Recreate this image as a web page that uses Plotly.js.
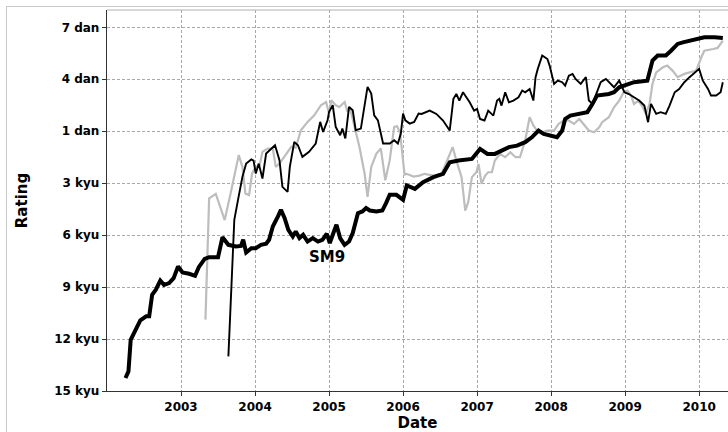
<!DOCTYPE html>
<html>
<head>
<meta charset="utf-8">
<script src="https://cdn.plot.ly/plotly-3.0.1.min.js"></script>
<style>
  html, body { margin: 0; padding: 0; background: #ffffff; }
  #wrap { position: relative; width: 728px; height: 432px; overflow: hidden; }
  #chart { width: 728px; height: 432px; }
  #frame { position: absolute; left: 6px; top: 6px; width: 740px; height: 440px;
           border-left: 1px solid #c8c8c8; border-top: 1px solid #c8c8c8; pointer-events: none; }
</style>
</head>
<body>
<div id="wrap"><div id="chart"></div><div id="frame"></div></div>
<script>
// Rating scale: 1 dan = 0, k kyu = -k, d dan = d - 1
const rankTickVals = [6, 3, 0, -3, -6, -9, -12, -15];
const rankTickText = ['7 dan', '4 dan', '1 dan', '3 kyu', '6 kyu', '9 kyu', '12 kyu', '15 kyu'];
const yearTicks = [2003, 2004, 2005, 2006, 2007, 2008, 2009, 2010];
const yearTickText = ['2003', '2004', '2005', '2006', '2007', '2008', '2009', '2010'];

// [year, rating]
const sm9 = [[2002.25,-14.25],[2002.29,-13.87],[2002.32,-12.04],[2002.38,-11.46],[2002.45,-10.92],[2002.53,-10.69],[2002.57,-10.69],[2002.61,-9.44],[2002.66,-9.15],[2002.72,-8.62],[2002.77,-8.87],[2002.84,-8.77],[2002.90,-8.48],[2002.96,-7.81],[2003.02,-8.15],[2003.11,-8.23],[2003.19,-8.35],[2003.24,-7.85],[2003.32,-7.37],[2003.38,-7.27],[2003.50,-7.27],[2003.56,-6.12],[2003.64,-6.56],[2003.74,-6.65],[2003.81,-6.62],[2003.84,-6.27],[2003.88,-7.0],[2003.95,-6.75],[2004.01,-6.75],[2004.08,-6.56],[2004.15,-6.5],[2004.19,-6.27],[2004.24,-5.5],[2004.31,-4.92],[2004.35,-4.54],[2004.40,-5.02],[2004.45,-5.69],[2004.51,-6.08],[2004.55,-5.79],[2004.60,-6.17],[2004.65,-5.98],[2004.71,-6.37],[2004.78,-6.17],[2004.85,-6.37],[2004.91,-6.27],[2004.97,-5.92],[2005.01,-6.46],[2005.05,-5.98],[2005.10,-5.4],[2005.15,-6.17],[2005.21,-6.56],[2005.27,-6.37],[2005.32,-5.88],[2005.39,-4.73],[2005.45,-4.63],[2005.50,-4.44],[2005.55,-4.58],[2005.64,-4.63],[2005.72,-4.58],[2005.77,-4.15],[2005.82,-3.67],[2005.91,-3.67],[2005.97,-3.87],[2006.00,-3.96],[2006.05,-3.13],[2006.16,-3.33],[2006.27,-2.94],[2006.41,-2.65],[2006.54,-2.46],[2006.63,-1.79],[2006.75,-1.69],[2006.93,-1.6],[2007.04,-1.02],[2007.14,-1.31],[2007.24,-1.31],[2007.33,-1.12],[2007.43,-0.92],[2007.54,-0.83],[2007.65,-0.63],[2007.74,-0.35],[2007.83,0.04],[2007.90,-0.15],[2008.01,-0.25],[2008.08,-0.35],[2008.15,0.04],[2008.19,0.71],[2008.26,0.9],[2008.40,1.0],[2008.49,1.1],[2008.56,1.58],[2008.62,2.06],[2008.78,2.15],[2008.85,2.25],[2008.92,2.54],[2009.03,2.73],[2009.12,2.83],[2009.30,2.92],[2009.37,4.08],[2009.44,4.37],[2009.55,4.37],[2009.62,4.65],[2009.71,5.04],[2009.78,5.13],[2009.89,5.23],[2010.00,5.33],[2010.07,5.42],[2010.21,5.42],[2010.32,5.38]];

const grayPlayer = [[2003.33,-10.88],[2003.38,-3.87],[2003.47,-3.62],[2003.54,-4.54],[2003.59,-5.13],[2003.68,-3.4],[2003.74,-2.15],[2003.78,-1.38],[2003.83,-2.06],[2003.87,-3.6],[2003.92,-3.69],[2003.96,-2.44],[2004.01,-2.06],[2004.06,-2.0],[2004.10,-1.19],[2004.17,-1.0],[2004.24,-1.0],[2004.28,-2.06],[2004.33,-1.87],[2004.42,-1.3],[2004.49,-0.9],[2004.55,-0.95],[2004.62,0.06],[2004.71,0.54],[2004.80,0.92],[2004.89,1.5],[2004.96,1.69],[2005.0,1.02],[2005.03,1.79],[2005.09,1.5],[2005.14,1.4],[2005.21,1.69],[2005.25,1.12],[2005.28,1.4],[2005.34,0.35],[2005.41,-0.9],[2005.48,-2.44],[2005.52,-3.79],[2005.57,-2.06],[2005.64,-1.29],[2005.70,-1.0],[2005.76,-2.83],[2005.82,-1.67],[2005.88,0.25],[2005.92,0.29],[2005.96,-0.1],[2006.02,-2.5],[2006.05,-2.46],[2006.14,-2.62],[2006.22,-2.56],[2006.29,-2.46],[2006.41,-2.56],[2006.52,-2.46],[2006.59,-1.79],[2006.67,-0.92],[2006.72,-1.69],[2006.79,-2.65],[2006.84,-4.58],[2006.88,-4.1],[2006.93,-2.65],[2006.99,-2.37],[2007.02,-1.88],[2007.06,-3.04],[2007.11,-2.56],[2007.15,-2.37],[2007.20,-2.37],[2007.24,-1.69],[2007.31,-1.31],[2007.38,-1.5],[2007.45,-1.21],[2007.52,-1.5],[2007.58,-1.5],[2007.65,-0.54],[2007.71,0.81],[2007.76,0.33],[2007.81,0.04],[2007.88,-0.06],[2007.95,0.04],[2008.04,0.04],[2008.10,0.42],[2008.17,0.62],[2008.24,0.62],[2008.31,0.42],[2008.38,0.71],[2008.44,0.42],[2008.51,0.04],[2008.58,-0.06],[2008.65,0.23],[2008.69,0.52],[2008.78,0.81],[2008.85,1.38],[2008.92,1.77],[2008.98,2.25],[2009.03,2.35],[2009.08,2.06],[2009.12,1.58],[2009.18,1.77],[2009.24,1.38],[2009.28,1.0],[2009.33,1.58],[2009.37,2.73],[2009.42,3.4],[2009.51,3.69],[2009.57,3.79],[2009.64,3.5],[2009.71,3.12],[2009.80,3.31],[2009.89,3.4],[2009.96,3.5],[2010.03,4.27],[2010.07,4.65],[2010.19,4.75],[2010.25,4.81],[2010.32,5.23]];

const blackPlayer = [[2003.64,-13.0],[2003.72,-5.12],[2003.77,-3.96],[2003.83,-2.63],[2003.88,-1.87],[2003.95,-1.63],[2003.98,-1.7],[2004.01,-2.44],[2004.05,-1.87],[2004.10,-2.73],[2004.15,-1.29],[2004.22,-1.0],[2004.27,-0.81],[2004.33,-1.67],[2004.37,-3.21],[2004.44,-3.5],[2004.47,-2.06],[2004.53,-0.62],[2004.58,-0.81],[2004.64,-1.48],[2004.73,-1.19],[2004.82,-0.71],[2004.88,0.54],[2004.92,-0.04],[2004.98,0.63],[2005.0,1.12],[2005.05,1.5],[2005.09,0.25],[2005.15,-0.23],[2005.18,0.15],[2005.22,-0.42],[2005.27,1.4],[2005.32,1.21],[2005.36,0.06],[2005.43,0.15],[2005.52,2.56],[2005.57,2.17],[2005.61,0.92],[2005.66,0.63],[2005.73,-0.71],[2005.82,-0.71],[2005.88,-0.52],[2005.93,-0.71],[2005.97,-0.13],[2006.0,1.02],[2006.03,0.63],[2006.09,0.44],[2006.15,0.54],[2006.21,1.02],[2006.25,1.0],[2006.36,1.19],[2006.45,1.0],[2006.54,0.62],[2006.63,0.04],[2006.68,1.87],[2006.72,2.15],[2006.76,1.77],[2006.81,2.25],[2006.86,1.96],[2006.90,1.67],[2006.96,1.19],[2007.0,1.29],[2007.04,0.71],[2007.10,0.62],[2007.15,1.19],[2007.22,0.9],[2007.27,1.77],[2007.30,1.87],[2007.33,1.48],[2007.38,2.25],[2007.43,1.67],[2007.49,1.77],[2007.56,1.96],[2007.61,2.35],[2007.65,2.25],[2007.71,2.44],[2007.76,1.77],[2007.79,3.12],[2007.82,3.6],[2007.88,4.37],[2007.95,4.17],[2007.98,3.79],[2008.04,2.73],[2008.09,2.92],[2008.15,2.83],[2008.19,2.63],[2008.24,3.21],[2008.29,3.31],[2008.33,3.02],[2008.40,2.73],[2008.47,3.12],[2008.51,1.77],[2008.56,1.58],[2008.60,2.06],[2008.67,2.83],[2008.74,3.02],[2008.81,2.73],[2008.85,2.54],[2008.92,2.92],[2008.99,2.25],[2009.05,2.15],[2009.12,1.96],[2009.19,1.77],[2009.26,1.48],[2009.31,0.52],[2009.35,1.58],[2009.42,1.0],[2009.48,1.1],[2009.55,1.0],[2009.60,1.48],[2009.67,2.25],[2009.73,2.44],[2009.80,2.83],[2009.87,3.12],[2009.94,3.4],[2010.0,3.6],[2010.05,2.92],[2010.12,2.44],[2010.16,2.06],[2010.23,2.06],[2010.29,2.25],[2010.32,2.83]];

const labelText = 'SM9';
const labelPos = [2004.97, -7.27];

const xs = a => a.map(p => p[0]);
const ys = a => a.map(p => p[1]);

const traces = [
  { x: xs(grayPlayer), y: ys(grayPlayer), mode: 'lines', line: { color: '#bdbdbd', width: 2.2 }, hoverinfo: 'skip' },
  { x: xs(blackPlayer), y: ys(blackPlayer), mode: 'lines', line: { color: '#000000', width: 1.9 }, hoverinfo: 'skip' },
  { x: xs(sm9), y: ys(sm9), mode: 'lines', line: { color: '#000000', width: 4 }, hoverinfo: 'skip' }
];

const fontFam = '"DejaVu Sans", sans-serif';
const layout = {
  width: 728, height: 432,
  margin: { l: 107, r: 0, t: 10, b: 41 },
  paper_bgcolor: '#ffffff', plot_bgcolor: '#ffffff',
  showlegend: false,
  font: { family: fontFam, color: '#000000' },
  xaxis: {
    range: [2002.0, 2010.39],
    tickvals: yearTicks, ticktext: yearTickText,
    tickfont: { family: fontFam, size: 12, weight: 'bold', color: '#000' },
    ticks: 'outside', ticklen: 4, tickcolor: '#333',
    showgrid: true, gridcolor: '#a8a8a8', gridwidth: 1, griddash: '3px,2px',
    showline: true, linecolor: '#333333', linewidth: 1.2,
    zeroline: false,
    title: { text: 'Date', font: { family: fontFam, size: 15, weight: 'bold', color: '#000' }, standoff: 3 }
  },
  yaxis: {
    range: [-15, 7],
    tickvals: rankTickVals, ticktext: rankTickText,
    tickfont: { family: fontFam, size: 12, weight: 'bold', color: '#000' },
    ticks: 'outside', ticklen: 4, tickcolor: '#333',
    showgrid: true, gridcolor: '#a8a8a8', gridwidth: 1, griddash: '3px,2px',
    showline: true, linecolor: '#333333', linewidth: 1.2,
    zeroline: false,
    title: { text: 'Rating', font: { family: fontFam, size: 15, weight: 'bold', color: '#000' }, standoff: 23 }
  },
  shapes: [
    { type: 'line', xref: 'paper', yref: 'paper', x0: 0, x1: 1, y0: 1, y1: 1, line: { color: '#b0b0b0', width: 1 } }
  ],
  annotations: [
    { x: labelPos[0], y: labelPos[1], xref: 'x', yref: 'y', text: labelText, showarrow: false,
      font: { family: fontFam, size: 15, weight: 'bold', color: '#000' } }
  ]
};

Plotly.newPlot('chart', traces, layout, { staticPlot: true, displayModeBar: false });
</script>
</body>
</html>
